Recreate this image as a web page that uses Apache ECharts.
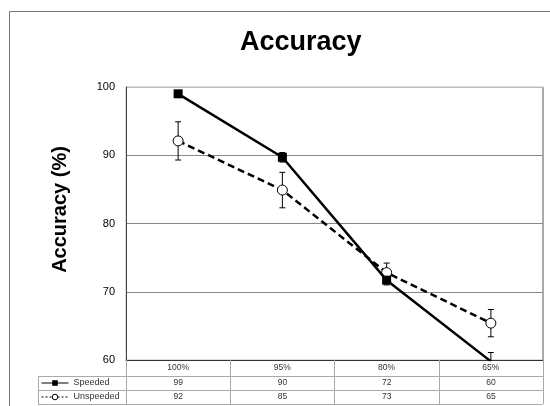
<!DOCTYPE html>
<html>
<head>
<meta charset="utf-8">
<script src="https://cdn.jsdelivr.net/npm/echarts@6/dist/echarts.min.js"></script>
<style>
  html, body { margin: 0; padding: 0; background: #fff; }
  #chart { width: 550px; height: 406px; }
</style>
</head>
<body>
<div id="chart"></div>
<script>
// ---- data ----
const categories = ['100%', '95%', '80%', '65%'];
const seriesNames = ['Speeded', 'Unspeeded'];
const speeded = [99, 89.7, 71.7, 59.8];
const unspeeded = [92.1, 84.9, 72.8, 65.4];
const speededErr = [0.3, 0.7, 0.7, 1.3];
const unspeededErr = [2.8, 2.6, 1.4, 2.0];
const yMin = 60, yMax = 100, yStep = 10;

// ---- layout ----
const GL = 126, GT = 87, GR = 7, GB = 46;
const W = 550, H = 406;
const plotRight = W - GR, plotBottom = H - GB;
const tableLeft = 38;
const headerH = 16, rowH = 14;
const FONT = '"Liberation Sans", Arial, sans-serif';

function errData(vals, errs) {
  return vals.map((v, i) => [i, v - errs[i], v + errs[i]]);
}

function errRender(params, api) {
  const x = api.value(0);
  const lo = api.coord([x, api.value(1)]);
  const hi = api.coord([x, api.value(2)]);
  const c = 3;
  const st = { stroke: '#000', lineWidth: 1 };
  return {
    type: 'group',
    children: [
      { type: 'line', shape: { x1: lo[0], y1: lo[1], x2: hi[0], y2: hi[1] }, style: st },
      { type: 'line', shape: { x1: hi[0] - c, y1: hi[1], x2: hi[0] + c, y2: hi[1] }, style: st },
      { type: 'line', shape: { x1: lo[0] - c, y1: lo[1], x2: lo[0] + c, y2: lo[1] }, style: st }
    ]
  };
}

const chart = echarts.init(document.getElementById('chart'), null, { renderer: 'canvas' });

const r1 = plotBottom + headerH, r2 = r1 + rowH, r3 = r2 + rowH;
const lineStyle = { stroke: '#aaa', lineWidth: 1 };

chart.setOption({
  animation: false,
  textStyle: { fontFamily: FONT },
  title: {
    text: 'Accuracy',
    left: 240,
    top: 29,
    padding: 0,
    textStyle: { fontSize: 27, fontWeight: 'bold', color: '#000', fontFamily: FONT }
  },
  legend: {
    data: [
      { name: seriesNames[0], lineStyle: { type: 'solid', width: 1 }, itemStyle: { color: '#000' } },
      { name: seriesNames[1], lineStyle: { type: [2, 2], width: 1 }, itemStyle: { color: '#fff', borderColor: '#000', borderWidth: 1 } }
    ],
    orient: 'vertical',
    left: tableLeft + 3,
    top: r1,
    padding: 0,
    itemGap: 0,
    itemWidth: 27,
    itemHeight: 7,
    textStyle: { fontSize: 9, color: '#333', lineHeight: 14, fontFamily: FONT }
  },
  grid: {
    left: GL, right: GR, top: GT, bottom: GB,
    show: true, borderColor: '#bbb', borderWidth: 1
  },
  xAxis: {
    type: 'category',
    data: categories,
    boundaryGap: true,
    axisLine: { show: true, lineStyle: { color: '#333', width: 1 } },
    axisTick: { show: true, length: headerH + 2 * rowH, interval: 0, lineStyle: { color: '#aaa' } },
    splitLine: { show: false },
    axisLabel: {
      interval: 0,
      margin: 0,
      formatter: function (val, idx) {
        return '{h|' + val + '}\n{v|' + Math.round(speeded[idx]) + '}\n{v|' + Math.round(unspeeded[idx]) + '}';
      },
      rich: {
        h: { fontSize: 8.5, lineHeight: headerH, color: '#333', fontFamily: FONT },
        v: { fontSize: 8.5, lineHeight: rowH, color: '#333', fontFamily: FONT }
      }
    }
  },
  yAxis: {
    type: 'value',
    min: yMin, max: yMax, interval: yStep,
    name: 'Accuracy (%)',
    nameLocation: 'middle',
    nameGap: 56,
    nameTextStyle: { fontSize: 20, fontWeight: 'bold', color: '#000', fontFamily: FONT, padding: [0, 0, 0, 28] },
    axisLine: { show: true, lineStyle: { color: '#444', width: 1 } },
    axisTick: { show: false },
    axisLabel: { fontSize: 11, color: '#000', margin: 11, fontFamily: FONT },
    splitLine: { show: true, lineStyle: { color: ['#888', '#888', '#888', '#888', '#bbb'], width: 1 } }
  },
  series: [
    {
      type: 'custom',
      name: 'Speeded error',
      renderItem: errRender,
      data: errData(speeded, speededErr),
      encode: { x: 0, y: [1, 2] },
      clip: true,
      z: 1,
      silent: true
    },
    {
      type: 'custom',
      name: 'Unspeeded error',
      renderItem: errRender,
      data: errData(unspeeded, unspeededErr),
      encode: { x: 0, y: [1, 2] },
      clip: true,
      z: 1,
      silent: true
    },
    {
      type: 'line',
      name: seriesNames[0],
      data: speeded,
      symbol: 'rect',
      symbolSize: 9,
      color: '#000',
      itemStyle: { color: '#000' },
      lineStyle: { color: '#000', width: 2.5, type: 'solid' },
      z: 3
    },
    {
      type: 'line',
      name: seriesNames[1],
      data: unspeeded,
      symbol: 'circle',
      symbolSize: 10,
      showAllSymbol: true,
      color: '#000',
      itemStyle: { color: '#fff', borderColor: '#000', borderWidth: 1 },
      lineStyle: { color: '#000', width: 2.5, type: [7, 4] },
      z: 2
    }
  ],
  graphic: [
    { type: 'rect', silent: true, z: -10, shape: { x: 9.5, y: 11.5, width: 600, height: 500 }, style: { fill: 'none', stroke: '#777', lineWidth: 1 } },
    { type: 'line', silent: true, shape: { x1: plotRight, y1: GT, x2: plotRight, y2: plotBottom }, style: { stroke: '#aaa', lineWidth: 2 } },
    { type: 'line', silent: true, shape: { x1: tableLeft, y1: r1 + 0.5, x2: plotRight, y2: r1 + 0.5 }, style: lineStyle },
    { type: 'line', silent: true, shape: { x1: tableLeft, y1: r2 + 0.5, x2: plotRight, y2: r2 + 0.5 }, style: lineStyle },
    { type: 'line', silent: true, shape: { x1: tableLeft, y1: r3 + 0.5, x2: plotRight, y2: r3 + 0.5 }, style: lineStyle },
    { type: 'line', silent: true, shape: { x1: tableLeft + 0.5, y1: r1, x2: tableLeft + 0.5, y2: r3 }, style: lineStyle }
  ]
});
</script>
</body>
</html>
